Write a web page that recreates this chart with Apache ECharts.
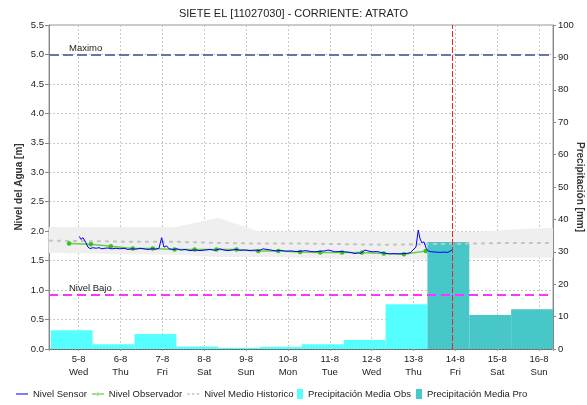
<!DOCTYPE html>
<html>
<head>
<meta charset="utf-8">
<title>SIETE EL [11027030] - CORRIENTE: ATRATO</title>
<script src="https://cdn.jsdelivr.net/npm/echarts@6/dist/echarts.min.js"></script>
<style>
  html, body { margin: 0; padding: 0; background: #fff; }
  #chart { width: 587px; height: 405px; }
</style>
</head>
<body>
<div id="chart"></div>
<script>
// datos
const titulo = 'SIETE EL [11027030] - CORRIENTE: ATRATO';

const ejeXMin = '2015-08-04 07:00';
const ejeXMax = '2015-08-16 08:00';

// dias del eje x (medianoche) y sus etiquetas
const diasEje = ['2015-08-05', '2015-08-06', '2015-08-07', '2015-08-08', '2015-08-09', '2015-08-10',
  '2015-08-11', '2015-08-12', '2015-08-13', '2015-08-14', '2015-08-15', '2015-08-16'];
const etiquetasDias = ['5-8\nWed', '6-8\nThu', '7-8\nFri', '8-8\nSat', '9-8\nSun', '10-8\nMon',
  '11-8\nTue', '12-8\nWed', '13-8\nThu', '14-8\nFri', '15-8\nSat', '16-8\nSun'];

// Nivel Sensor [m]
const sensorTiempos = [
  '2015-08-05 00:20', '2015-08-05 01:20', '2015-08-05 02:30', '2015-08-05 03:55', '2015-08-05 05:20', '2015-08-05 06:30',
  '2015-08-05 08:15', '2015-08-05 10:00', '2015-08-05 11:40', '2015-08-05 13:25', '2015-08-05 15:05', '2015-08-05 16:50',
  '2015-08-05 19:05', '2015-08-05 21:25', '2015-08-05 23:40',
  '2015-08-06 02:00', '2015-08-06 04:15', '2015-08-06 06:35', '2015-08-06 08:55', '2015-08-06 11:10', '2015-08-06 13:30',
  '2015-08-06 15:45', '2015-08-06 18:05', '2015-08-06 20:20', '2015-08-06 22:05', '2015-08-06 23:35',
  '2015-08-07 00:55', '2015-08-07 02:30', '2015-08-07 03:50', '2015-08-07 06:05', '2015-08-07 08:25', '2015-08-07 10:40',
  '2015-08-07 13:00', '2015-08-07 15:50', '2015-08-07 18:40', '2015-08-07 21:35',
  '2015-08-08 00:25', '2015-08-08 03:20', '2015-08-08 06:10', '2015-08-08 09:00', '2015-08-08 11:20', '2015-08-08 13:35',
  '2015-08-08 15:55', '2015-08-08 18:15', '2015-08-08 20:30', '2015-08-08 23:20',
  '2015-08-09 02:15', '2015-08-09 05:05', '2015-08-09 07:25', '2015-08-09 09:40', '2015-08-09 12:00', '2015-08-09 14:15',
  '2015-08-09 17:10', '2015-08-09 20:00', '2015-08-09 22:50',
  '2015-08-10 01:45', '2015-08-10 04:35', '2015-08-10 07:30', '2015-08-10 10:20', '2015-08-10 13:10', '2015-08-10 15:30',
  '2015-08-10 18:20', '2015-08-10 21:15', '2015-08-10 22:55',
  '2015-08-11 00:40', '2015-08-11 02:55', '2015-08-11 05:50', '2015-08-11 08:40', '2015-08-11 11:35', '2015-08-11 14:25',
  '2015-08-11 16:10', '2015-08-11 17:50', '2015-08-11 20:10', '2015-08-11 21:20', '2015-08-11 22:30',
  '2015-08-12 00:45', '2015-08-12 03:00', '2015-08-12 05:20', '2015-08-12 08:10', '2015-08-12 10:30', '2015-08-12 12:45',
  '2015-08-12 15:40', '2015-08-12 18:30', '2015-08-12 20:50', '2015-08-12 22:30', '2015-08-12 23:40',
  '2015-08-13 01:25', '2015-08-13 02:45', '2015-08-13 03:40', '2015-08-13 04:50', '2015-08-13 06:00', '2015-08-13 07:25',
  '2015-08-13 08:50', '2015-08-13 10:35', '2015-08-13 12:50', '2015-08-13 15:10', '2015-08-13 17:25', '2015-08-13 19:45',
  '2015-08-13 22:00'
];
const sensorNivel = [
  1.91, 1.86, 1.89, 1.82, 1.73, 1.705, 1.72, 1.71, 1.72, 1.70, 1.71, 1.715, 1.70, 1.71, 1.70,
  1.71, 1.69, 1.70, 1.695, 1.71, 1.70, 1.69, 1.70, 1.695, 1.71, 1.89,
  1.73, 1.75, 1.70, 1.69, 1.70, 1.68, 1.69, 1.67, 1.68, 1.67,
  1.68, 1.69, 1.675, 1.70, 1.68, 1.67, 1.68, 1.69, 1.675, 1.68,
  1.67, 1.68, 1.67, 1.70, 1.69, 1.68, 1.665, 1.675, 1.66,
  1.665, 1.655, 1.66, 1.67, 1.655, 1.65, 1.66, 1.665, 1.68,
  1.67, 1.65, 1.655, 1.65, 1.64, 1.62, 1.63, 1.625, 1.68, 1.67, 1.66,
  1.65, 1.655, 1.64, 1.625, 1.615, 1.62, 1.615, 1.62, 1.625, 1.64, 1.68,
  1.73, 2.02, 1.88, 1.80, 1.82, 1.70, 1.66, 1.65, 1.645, 1.64, 1.645, 1.64, 1.68
];

// Nivel Observador [m]
const observadorTiempos = [
  '2015-08-04 18:30', '2015-08-05 07:00', '2015-08-05 18:30', '2015-08-06 07:00', '2015-08-06 18:30',
  '2015-08-07 07:00', '2015-08-07 18:30', '2015-08-08 07:00', '2015-08-08 18:30', '2015-08-09 07:00',
  '2015-08-09 18:30', '2015-08-10 07:00', '2015-08-10 18:30', '2015-08-11 07:00', '2015-08-11 18:30',
  '2015-08-12 07:00', '2015-08-12 18:30', '2015-08-13 07:00'
];
const observadorNivel = [1.79, 1.78, 1.745, 1.705, 1.705, 1.69, 1.69, 1.69, 1.69, 1.665,
  1.665, 1.645, 1.64, 1.64, 1.64, 1.62, 1.61, 1.665];

// Nivel historico: banda (min / max) y medio [m]
const historicoTiempos = ['2015-08-04 07:00', '2015-08-05 08:00', '2015-08-06 08:00', '2015-08-07 08:00',
  '2015-08-08 08:00', '2015-08-09 08:00', '2015-08-10 08:00', '2015-08-11 08:00', '2015-08-12 08:00',
  '2015-08-13 08:00', '2015-08-14 08:00', '2015-08-15 08:00', '2015-08-16 08:00'];
const historicoMin = [1.63, 1.62, 1.61, 1.60, 1.56, 1.56, 1.55, 1.53, 1.52, 1.52, 1.54, 1.55, 1.55];
const historicoMax = [2.07, 2.07, 2.07, 2.07, 2.23, 1.99, 1.99, 1.99, 1.99, 1.99, 1.98, 2.03, 2.06];
const historicoMedio = [1.84, 1.83, 1.82, 1.82, 1.80, 1.79, 1.79, 1.78, 1.77, 1.78, 1.79, 1.80, 1.80];

// Precipitacion media diaria [mm] (inicio del periodo de 24 h)
const precipObsInicio = ['2015-08-04 08:00', '2015-08-05 08:00', '2015-08-06 08:00', '2015-08-07 08:00',
  '2015-08-08 08:00', '2015-08-09 08:00', '2015-08-10 08:00', '2015-08-11 08:00', '2015-08-12 08:00'];
const precipObsValor = [5.8, 1.5, 4.6, 0.75, 0.4, 0.7, 1.5, 2.8, 13.8];
const precipProInicio = ['2015-08-13 08:00', '2015-08-14 08:00', '2015-08-15 08:00'];
const precipProValor = [33.0, 10.5, 12.3];

// umbrales y hora actual
const nivelMaximo = 5.0;
const nivelBajo = 0.92;
const horaActual = '2015-08-13 22:00';

const DIA = 24 * 3600 * 1000;
const FUENTE = '"Liberation Sans", Arial, sans-serif';

// iconos de la leyenda: linea sola, linea con punto, linea discontinua
const ICONO_LINEA = 'path://M0,0h14v1.2h-14z';
const ICONO_PUNTO = 'path://M0,1.6h14v1.2h-14z M5.2,2.2a1.8,1.8,0,1,0,3.6,0a1.8,1.8,0,1,0,-3.6,0z';
const ICONO_GUIONES = 'path://M0,0h3v2h-3z M5.5,0h3v2h-3z M11,0h3v2h-3z';

// fecha local a milisegundos
function t(s) {
  const [d, h] = s.split(' ');
  const [Y, M, D] = d.split('-').map(Number);
  const [hh, mm] = (h || '00:00').split(':').map(Number);
  return new Date(Y, M - 1, D, hh, mm).getTime();
}

const diasMs = diasEje.map(t);
const pares = (xs, ys) => xs.map((x, i) => [t(x), ys[i]]);

// barras de precipitacion como rectangulos del inicio al fin del periodo
const barra = function (params, api) {
  const p0 = api.coord([api.value(0), api.value(2)]);
  const p1 = api.coord([api.value(1), 0]);
  return {
    type: 'rect',
    shape: { x: p0[0], y: p0[1], width: p1[0] - p0[0], height: p1[1] - p0[1] },
    style: { fill: api.visual('color') }
  };
};
const periodos = (inicios, valores) => inicios.map((s, i) => [t(s), t(s) + DIA, valores[i]]);

const chart = echarts.init(document.getElementById('chart'));

const option = {
  animation: false,
  backgroundColor: '#fff',
  textStyle: { fontFamily: FUENTE },
  title: {
    text: titulo,
    left: 'center',
    top: 3,
    textStyle: { fontSize: 11, fontWeight: 'normal', color: '#222', fontFamily: FUENTE }
  },
  legend: [
    {
      data: [
        { name: 'Nivel Sensor', icon: ICONO_LINEA },
        { name: 'Nivel Observador', icon: ICONO_PUNTO },
        { name: 'Nivel Medio Historico', icon: ICONO_GUIONES }
      ],
      left: 16,
      top: 389,
      padding: 0,
      itemWidth: 12,
      itemHeight: 10,
      itemGap: 5,
      selectedMode: false,
      textStyle: { fontSize: 9.5, color: '#222', fontFamily: FUENTE }
    },
    {
      data: [
        { name: 'Precipitación Media Obs', icon: 'rect' },
        { name: 'Precipitación Media Pro', icon: 'rect' }
      ],
      left: 297,
      top: 389,
      width: 400,
      padding: 0,
      itemWidth: 6,
      itemHeight: 10,
      itemGap: 5,
      selectedMode: false,
      textStyle: { fontSize: 9.5, color: '#222', fontFamily: FUENTE }
    }
  ],
  grid: {
    left: 49,
    right: 34,
    top: 25,
    bottom: 56,
    show: true,
    borderColor: '#999',
    borderWidth: 1,
    outerBoundsMode: 'none'
  },
  xAxis: {
    type: 'time',
    min: t(ejeXMin),
    max: t(ejeXMax),
    minInterval: DIA,
    maxInterval: DIA,
    axisLine: { show: true, lineStyle: { color: '#666', type: [2, 1] } },
    axisTick: { show: true, length: 2, lineStyle: { color: '#999' } },
    splitLine: { show: true, lineStyle: { color: '#c8c8c8', type: [2, 2] } },
    axisLabel: {
      margin: 4,
      fontSize: 9.5,
      lineHeight: 13,
      color: '#222',
      showMinLabel: true,
      showMaxLabel: true,
      hideOverlap: false,
      formatter: function (value) {
        const i = diasMs.findIndex(d => Math.abs(d - value) < 60000);
        return i < 0 ? '' : etiquetasDias[i];
      }
    }
  },
  yAxis: [
    {
      type: 'value',
      min: 0,
      max: 5.5,
      interval: 0.5,
      name: 'Nivel del Agua [m]',
      nameLocation: 'middle',
      nameGap: 25,
      nameMoveOverlap: false,
      nameTextStyle: { fontSize: 10, fontWeight: 'bold', color: '#333' },
      axisLine: { show: true, lineStyle: { color: '#888' } },
      axisTick: { show: true, length: 4, lineStyle: { color: '#888' } },
      axisLabel: { margin: 5, fontSize: 9.5, color: '#222', formatter: v => v.toFixed(1) },
      splitLine: { show: true, lineStyle: { color: '#c8c8c8', type: [2, 2] } }
    },
    {
      type: 'value',
      min: 0,
      max: 100,
      interval: 10,
      position: 'right',
      name: 'Precipitación [mm]',
      nameLocation: 'middle',
      nameGap: 22,
      nameRotate: -90,
      nameMoveOverlap: false,
      nameTextStyle: { fontSize: 10, fontWeight: 'bold', color: '#333' },
      axisLine: { show: true, lineStyle: { color: '#888' } },
      axisTick: { show: true, length: 3, lineStyle: { color: '#888' } },
      axisLabel: { margin: 5, fontSize: 9.5, color: '#222' },
      splitLine: { show: false }
    }
  ],
  series: [
    {
      name: 'banda base',
      type: 'line',
      stack: 'banda',
      z: 1,
      data: pares(historicoTiempos, historicoMin),
      showSymbol: false,
      silent: true,
      lineStyle: { opacity: 0 }
    },
    {
      name: 'banda historica',
      type: 'line',
      stack: 'banda',
      z: 1,
      data: historicoTiempos.map((x, i) => [t(x), historicoMax[i] - historicoMin[i]]),
      showSymbol: false,
      silent: true,
      lineStyle: { opacity: 0 },
      areaStyle: { color: '#efefef', opacity: 1 }
    },
    {
      name: 'Precipitación Media Obs',
      type: 'custom',
      yAxisIndex: 1,
      z: 2,
      itemStyle: { color: '#55ffff' },
      encode: { x: [0, 1], y: 2 },
      renderItem: barra,
      data: periodos(precipObsInicio, precipObsValor)
    },
    {
      name: 'Precipitación Media Pro',
      type: 'custom',
      yAxisIndex: 1,
      z: 2,
      itemStyle: { color: '#47c7c7' },
      encode: { x: [0, 1], y: 2 },
      renderItem: barra,
      data: periodos(precipProInicio, precipProValor)
    },
    {
      name: 'Nivel Medio Historico',
      type: 'line',
      z: 3,
      data: pares(historicoTiempos, historicoMedio),
      showSymbol: false,
      symbol: 'none',
      color: '#c4c4c4',
      lineStyle: { color: '#c4c4c4', width: 2, type: [4, 4] }
    },
    {
      name: 'Nivel Observador',
      type: 'line',
      z: 4,
      data: pares(observadorTiempos, observadorNivel),
      symbol: 'circle',
      symbolSize: 4.5,
      showSymbol: true,
      color: '#3dbe1c',
      itemStyle: { color: '#3dbe1c' },
      lineStyle: { color: '#6acd45', width: 1.5 }
    },
    {
      name: 'Nivel Sensor',
      type: 'line',
      z: 5,
      data: pares(sensorTiempos, sensorNivel),
      showSymbol: false,
      symbol: 'none',
      color: '#0000ff',
      lineStyle: { color: '#0000ff', width: 1 },
      markLine: {
        silent: true,
        symbol: 'none',
        animation: false,
        data: [
          {
            yAxis: nivelMaximo,
            lineStyle: { color: '#6677a7', width: 2, type: [10, 4] },
            label: { show: true, formatter: 'Maximo', position: 'insideStartTop', distance: [20, 1], color: '#222', fontSize: 9.5 }
          },
          {
            yAxis: nivelBajo,
            lineStyle: { color: '#ff33ff', width: 2, type: [9, 5] },
            label: { show: true, formatter: 'Nivel Bajo', position: 'insideStartTop', distance: [20, 1], color: '#222', fontSize: 9.5 }
          },
          {
            xAxis: t(horaActual),
            lineStyle: { color: '#ee2222', width: 1, type: [6, 2] },
            label: { show: false }
          }
        ]
      }
    }
  ]
};

chart.setOption(option);
</script>
</body>
</html>
